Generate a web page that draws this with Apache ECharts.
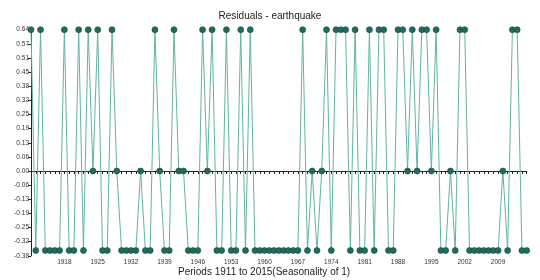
<!DOCTYPE html>
<html><head><meta charset="utf-8">
<script src="https://cdn.jsdelivr.net/npm/echarts@6/dist/echarts.min.js"></script>
<style>html,body{margin:0;padding:0;background:#fff}#c{width:540px;height:280px}</style>
</head><body><div id="c"></div>
<script>
const years = [1911,1912,1913,1914,1915,1916,1917,1918,1919,1920,
1921,1922,1923,1924,1925,1926,1927,1928,1929,1930,
1931,1932,1933,1934,1935,1936,1937,1938,1939,1940,
1941,1942,1943,1944,1945,1946,1947,1948,1949,1950,
1951,1952,1953,1954,1955,1956,1957,1958,1959,1960,
1961,1962,1963,1964,1965,1966,1967,1968,1969,1970,
1971,1972,1973,1974,1975,1976,1977,1978,1979,1980,
1981,1982,1983,1984,1985,1986,1987,1988,1989,1990,
1991,1992,1993,1994,1995,1996,1997,1998,1999,2000,
2001,2002,2003,2004,2005,2006,2007,2008,2009,2010,
2011,2012,2013,2014,2015];
const residuals = [0.64,-0.36,0.64,-0.36,-0.36,-0.36,-0.36,0.64,-0.36,-0.36,
0.64,-0.36,0.64,0,0.64,-0.36,-0.36,0.64,0,-0.36,
-0.36,-0.36,-0.36,0,-0.36,-0.36,0.64,0,-0.36,-0.36,
0.64,0,0,-0.36,-0.36,-0.36,0.64,0,0.64,-0.36,
-0.36,0.64,-0.36,-0.36,0.64,-0.36,0.64,-0.36,-0.36,-0.36,
-0.36,-0.36,-0.36,-0.36,-0.36,-0.36,-0.36,0.64,-0.36,0,
-0.36,0,0.64,-0.36,0.64,0.64,0.64,-0.36,0.64,-0.36,
-0.36,0.64,-0.36,0.64,0.64,-0.36,-0.36,0.64,0.64,0,
0.64,0,0.64,0.64,0,0.64,-0.36,-0.36,0,-0.36,
0.64,0.64,-0.36,-0.36,-0.36,-0.36,-0.36,-0.36,-0.36,0,
-0.36,0.64,0.64,-0.36,-0.36];
const xTickLabels = ['1918','1925','1932','1939','1946','1953','1960','1967','1974','1981','1988','1995','2002','2009'];
const yTickLabels = ['-0.38','-0.32','-0.25','-0.19','-0.13','-0.06','0.00','0.06','0.13','0.19','0.25','0.32','0.38','0.45','0.51','0.57','0.64'];

const chart = echarts.init(document.getElementById('c'), null, {renderer:'canvas'});
const axisCol = '#222';
chart.setOption({
  animation:false,
  title:[
    {text:'Residuals - earthquake', left:'center', top:6, textStyle:{fontSize:10, fontWeight:'normal', color:'#222', fontFamily:'Liberation Sans, Arial'}},
    {text:'Periods 1911 to 2015(Seasonality of 1)', left:173, top:262, textStyle:{fontSize:10, fontWeight:'normal', color:'#222', fontFamily:'Liberation Sans, Arial'}}
  ],
  grid:{left:31, right:13.3, top:29.7, bottom:24.2},
  xAxis:{
    type:'value', min:1911, max:2015, interval:7,
    axisLine:{onZero:true, lineStyle:{color:axisCol, width:1}},
    axisTick:{show:true, length:3, lineStyle:{color:axisCol}},
    minorTick:{show:true, splitNumber:7, length:3, lineStyle:{color:axisCol}},
    splitLine:{show:false},
    axisLabel:{fontSize:6.5, color:'#333', margin:3, fontFamily:'Liberation Sans, Arial',
      formatter:function(v){const s=String(Math.round(v));return xTickLabels.indexOf(s)>=0?s:'';}}
  },
  yAxis:{
    type:'value', min:-0.384, max:0.64, interval:0.064,
    axisLine:{show:true, onZero:false, lineStyle:{color:axisCol, width:1}},
    axisTick:{show:true, length:3, lineStyle:{color:axisCol}},
    splitLine:{show:false},
    axisLabel:{fontSize:6.5, color:'#333', margin:2, fontFamily:'Liberation Sans, Arial',
      formatter:function(v){const i=Math.round((v+0.384)/0.064);return yTickLabels[i]||'';}}
  },
  series:[{
    type:'line',
    data: years.map((y,i)=>[y, residuals[i]]),
    symbol:'circle', symbolSize:6,
    lineStyle:{color:'#63b2a4', width:1},
    itemStyle:{color:'#1f6b5c', borderColor:'#154a40', borderWidth:0.6},
    z:5
  }]
});
</script></body></html>
